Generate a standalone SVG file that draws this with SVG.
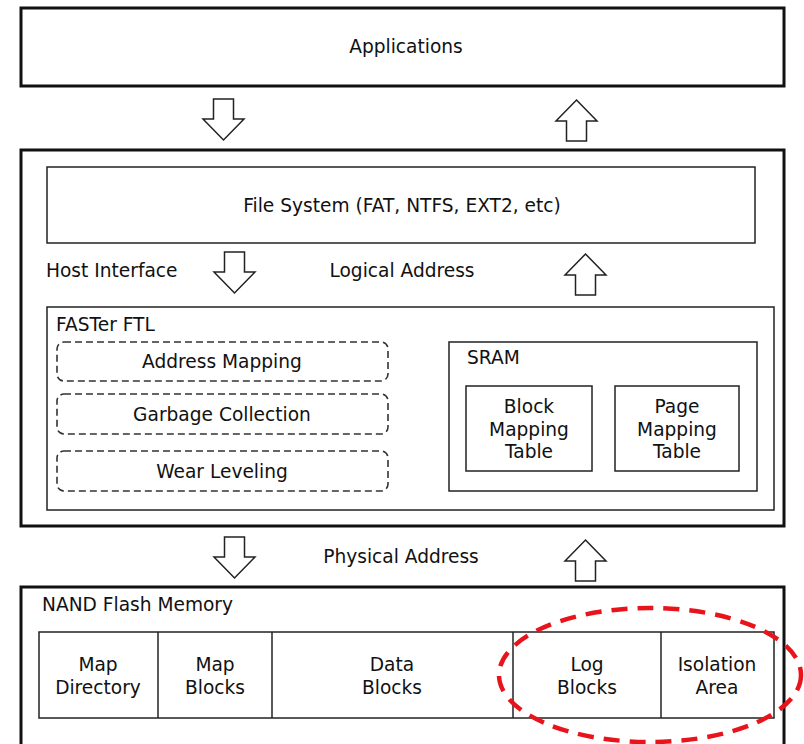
<svg xmlns="http://www.w3.org/2000/svg" width="804" height="744" viewBox="0 0 804 744">
  <style>
    text { font-family: "DejaVu Sans", Verdana, sans-serif; font-size: 18.6px; fill: #111; }
    .mid { text-anchor: middle; }
    .thick { fill: #fff; stroke: #111; stroke-width: 3; }
    .thin { fill: #fff; stroke: #222; stroke-width: 1.5; }
    .dash { fill: #fff; stroke: #333; stroke-width: 1.6; stroke-dasharray: 7 4; }
    .arrow { fill: #fff; stroke: #222; stroke-width: 1.5; stroke-linejoin: miter; }
  </style>
  <defs>
    <!-- hollow block arrow, 41 wide, 41 tall, origin at top-left -->
    <path id="down" d="M10.5 0 H30.5 V20 H41 L20.5 41 L0 20 H10.5 Z"/>
    <path id="up" d="M20.5 0 L41 21 H30.5 V41 H10.5 V21 H0 Z"/>
  </defs>

  <rect width="804" height="744" fill="#fff"/>

  <g id="applications">
    <rect class="thick" x="21" y="8" width="763" height="78"/>
    <text class="mid" x="406" y="53">Applications</text>
  </g>

  <g id="ftl-layer">
    <rect class="thick" x="21" y="150" width="763" height="376"/>
  </g>

  <g id="file-system">
    <rect class="thin" x="47" y="167" width="708" height="76"/>
    <text class="mid" x="402" y="212">File System (FAT, NTFS, EXT2, etc)</text>
  </g>

  <g id="labels">
    <text x="46" y="277">Host Interface</text>
    <text class="mid" x="402" y="277">Logical Address</text>
    <text class="mid" x="401" y="563">Physical Address</text>
  </g>

  <g id="faster-ftl">
    <rect class="thin" x="47" y="307" width="727" height="203"/>
    <text x="56" y="331">FASTer FTL</text>
  </g>

  <g id="address-mapping">
    <rect class="dash" x="57" y="342" width="331" height="39" rx="7"/>
    <text class="mid" x="222" y="368">Address Mapping</text>
  </g>
  <g id="garbage-collection">
    <rect class="dash" x="57" y="394" width="331" height="40" rx="7"/>
    <text class="mid" x="222" y="421">Garbage Collection</text>
  </g>
  <g id="wear-leveling">
    <rect class="dash" x="57" y="451" width="331" height="40" rx="7"/>
    <text class="mid" x="222" y="478">Wear Leveling</text>
  </g>

  <g id="sram">
    <rect class="thin" x="449" y="342" width="308" height="149"/>
    <text x="467" y="364">SRAM</text>
  </g>
  <g id="block-mapping-table">
    <rect class="thin" x="466" y="386" width="126" height="85"/>
    <text class="mid" x="529" y="413">Block</text>
    <text class="mid" x="529" y="436">Mapping</text>
    <text class="mid" x="529" y="458">Table</text>
  </g>
  <g id="page-mapping-table">
    <rect class="thin" x="615" y="386" width="124" height="85"/>
    <text class="mid" x="677" y="413">Page</text>
    <text class="mid" x="677" y="436">Mapping</text>
    <text class="mid" x="677" y="458">Table</text>
  </g>

  <g id="nand-flash">
    <rect class="thick" x="21" y="587" width="763" height="170"/>
    <text x="42" y="611">NAND Flash Memory</text>
  </g>
  <g id="nand-regions">
    <rect class="thin" x="39" y="632" width="735" height="86"/>
    <line x1="158" y1="632" x2="158" y2="718" stroke="#222" stroke-width="1.5"/>
    <line x1="272" y1="632" x2="272" y2="718" stroke="#222" stroke-width="1.5"/>
    <line x1="513" y1="632" x2="513" y2="718" stroke="#222" stroke-width="1.5"/>
    <line x1="661" y1="632" x2="661" y2="718" stroke="#222" stroke-width="1.5"/>
    <text class="mid" x="98" y="671">Map</text>
    <text class="mid" x="98" y="694">Directory</text>
    <text class="mid" x="215" y="671">Map</text>
    <text class="mid" x="215" y="694">Blocks</text>
    <text class="mid" x="392" y="671">Data</text>
    <text class="mid" x="392" y="694">Blocks</text>
    <text class="mid" x="587" y="671">Log</text>
    <text class="mid" x="587" y="694">Blocks</text>
    <text class="mid" x="717" y="671">Isolation</text>
    <text class="mid" x="717" y="694">Area</text>
  </g>

  <g id="connectors">
    <use href="#down" class="arrow" x="203" y="99"/>
    <use href="#up" class="arrow" x="556" y="100"/>
    <use href="#down" class="arrow" x="214" y="252"/>
    <use href="#up" class="arrow" x="565" y="254"/>
    <use href="#down" class="arrow" x="214" y="537"/>
    <use href="#up" class="arrow" x="565" y="540"/>
  </g>

  <g id="highlight">
    <ellipse cx="650" cy="675" rx="151" ry="67" fill="none" stroke="#e8141c" stroke-width="4.5" stroke-dasharray="16 10"/>
  </g>
</svg>
